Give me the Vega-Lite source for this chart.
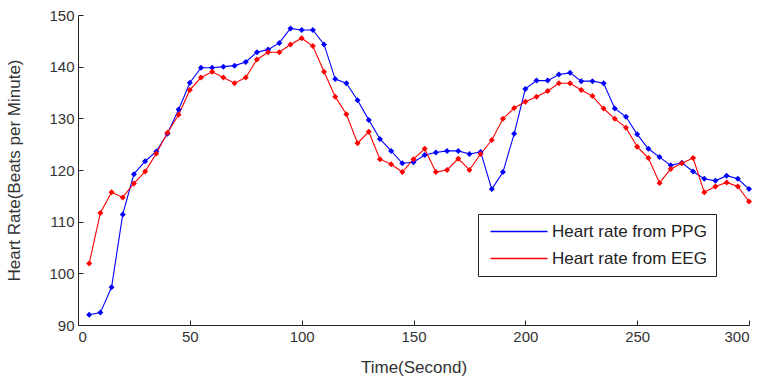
{
  "$schema": "https://vega.github.io/schema/vega-lite/v6.json",
  "width": 671,
  "height": 310,
  "autosize": {"type": "none"},
  "padding": {"left": 78, "top": 15, "right": 19, "bottom": 59},
  "background": "white",
  "config": {
    "view": {"stroke": null},
    "font": "Liberation Sans",
    "axis": {
      "grid": false,
      "domainColor": "#222222",
      "tickColor": "#222222",
      "tickSize": -5,
      "labelColor": "#333333",
      "titleColor": "#333333",
      "labelFontSize": 15,
      "titleFontSize": 17,
      "titleFontWeight": "normal",
      "labelFont": "Liberation Sans",
      "titleFont": "Liberation Sans"
    }
  },
  "data": {
    "values": [
      {"t": 5, "PPG": 92.0, "EEG": 101.9},
      {"t": 10, "PPG": 92.4, "EEG": 111.7},
      {"t": 15, "PPG": 97.3, "EEG": 115.7},
      {"t": 20, "PPG": 111.4, "EEG": 114.7},
      {"t": 25, "PPG": 119.2, "EEG": 117.4},
      {"t": 30, "PPG": 121.7, "EEG": 119.7},
      {"t": 35, "PPG": 123.6, "EEG": 123.2},
      {"t": 40, "PPG": 127.0, "EEG": 127.2},
      {"t": 45, "PPG": 131.7, "EEG": 130.7},
      {"t": 50, "PPG": 136.9, "EEG": 135.5},
      {"t": 55, "PPG": 139.8, "EEG": 137.9},
      {"t": 60, "PPG": 139.8, "EEG": 139.0},
      {"t": 65, "PPG": 140.0, "EEG": 137.9},
      {"t": 70, "PPG": 140.2, "EEG": 136.8},
      {"t": 75, "PPG": 140.9, "EEG": 137.9},
      {"t": 80, "PPG": 142.8, "EEG": 141.4},
      {"t": 85, "PPG": 143.3, "EEG": 142.8},
      {"t": 90, "PPG": 144.6, "EEG": 142.8},
      {"t": 95, "PPG": 147.4, "EEG": 144.3},
      {"t": 100, "PPG": 147.1, "EEG": 145.5},
      {"t": 105, "PPG": 147.1, "EEG": 144.0},
      {"t": 110, "PPG": 144.3, "EEG": 139.0},
      {"t": 115, "PPG": 137.6, "EEG": 134.2},
      {"t": 120, "PPG": 136.8, "EEG": 130.8},
      {"t": 125, "PPG": 133.5, "EEG": 125.2},
      {"t": 130, "PPG": 129.7, "EEG": 127.4},
      {"t": 135, "PPG": 126.0, "EEG": 122.1},
      {"t": 140, "PPG": 123.7, "EEG": 121.1},
      {"t": 145, "PPG": 121.3, "EEG": 119.6},
      {"t": 150, "PPG": 121.5, "EEG": 122.1},
      {"t": 155, "PPG": 122.9, "EEG": 124.1},
      {"t": 160, "PPG": 123.4, "EEG": 119.6},
      {"t": 165, "PPG": 123.7, "EEG": 120.0},
      {"t": 170, "PPG": 123.7, "EEG": 122.2},
      {"t": 175, "PPG": 123.1, "EEG": 120.0},
      {"t": 180, "PPG": 123.5, "EEG": 123.1},
      {"t": 185, "PPG": 116.3, "EEG": 125.8},
      {"t": 190, "PPG": 119.6, "EEG": 129.9},
      {"t": 195, "PPG": 127.0, "EEG": 132.0},
      {"t": 200, "PPG": 135.7, "EEG": 133.2},
      {"t": 205, "PPG": 137.3, "EEG": 134.2},
      {"t": 210, "PPG": 137.3, "EEG": 135.3},
      {"t": 215, "PPG": 138.5, "EEG": 136.8},
      {"t": 220, "PPG": 138.8, "EEG": 136.8},
      {"t": 225, "PPG": 137.2, "EEG": 135.5},
      {"t": 230, "PPG": 137.2, "EEG": 134.3},
      {"t": 235, "PPG": 136.8, "EEG": 131.9},
      {"t": 240, "PPG": 131.9, "EEG": 129.9},
      {"t": 245, "PPG": 130.3, "EEG": 128.2},
      {"t": 250, "PPG": 126.9, "EEG": 124.5},
      {"t": 255, "PPG": 124.1, "EEG": 122.3},
      {"t": 260, "PPG": 122.5, "EEG": 117.5},
      {"t": 265, "PPG": 120.9, "EEG": 120.2},
      {"t": 270, "PPG": 121.4, "EEG": 121.3},
      {"t": 275, "PPG": 119.7, "EEG": 122.3},
      {"t": 280, "PPG": 118.3, "EEG": 115.7},
      {"t": 285, "PPG": 117.9, "EEG": 116.8},
      {"t": 290, "PPG": 118.9, "EEG": 117.6},
      {"t": 295, "PPG": 118.3, "EEG": 116.8},
      {"t": 300, "PPG": 116.3, "EEG": 113.9}
    ]
  },
  "transform": [{"fold": ["PPG", "EEG"], "as": ["series", "hr"]}],
  "encoding": {
    "x": {
      "field": "t", "type": "quantitative",
      "scale": {"domain": [0, 300], "nice": false, "zero": false},
      "axis": {"values": [0, 50, 100, 150, 200, 250, 300], "title": "Time(Second)", "labelPadding": 9, "titlePadding": 15}
    },
    "y": {
      "field": "hr", "type": "quantitative",
      "scale": {"domain": [90, 150], "nice": false, "zero": false},
      "axis": {"values": [90, 100, 110, 120, 130, 140, 150], "title": "Heart Rate(Beats per Minute)", "labelPadding": 9, "titlePadding": 25}
    },
    "color": {
      "field": "series", "type": "nominal",
      "scale": {"domain": ["PPG", "EEG"], "range": ["#0000ff", "#ff0000"]}
    }
  },
  "layer": [
    {
      "mark": {"type": "line", "strokeWidth": 1.1},
      "encoding": {
        "color": {
          "field": "series", "type": "nominal",
          "scale": {"domain": ["PPG", "EEG"], "range": ["#0000ff", "#ff0000"]},
          "legend": {
            "title": null,
            "orient": "none",
            "legendX": 400,
            "legendY": 199,
            "symbolType": "M-1,0H10.4",
            "symbolSize": 100,
            "symbolStrokeWidth": 1.3,
            "labelFontSize": 17,
            "labelFont": "Liberation Sans",
            "labelColor": "#222222",
            "labelOffset": 48,
            "labelLimit": 400,
            "labelExpr": "datum.label == 'PPG' ? 'Heart rate from PPG' : 'Heart rate from EEG'",
            "rowPadding": 9,
            "padding": 9,
            "strokeColor": "#222222",
            "fillColor": "white"
          }
        }
      }
    },
    {
      "mark": {"type": "point", "shape": "diamond", "filled": true, "size": 36, "opacity": 1},
      "encoding": {
        "color": {"field": "series", "type": "nominal", "scale": {"domain": ["PPG", "EEG"], "range": ["#0000ff", "#ff0000"]}, "legend": null}
      }
    }
  ]
}
